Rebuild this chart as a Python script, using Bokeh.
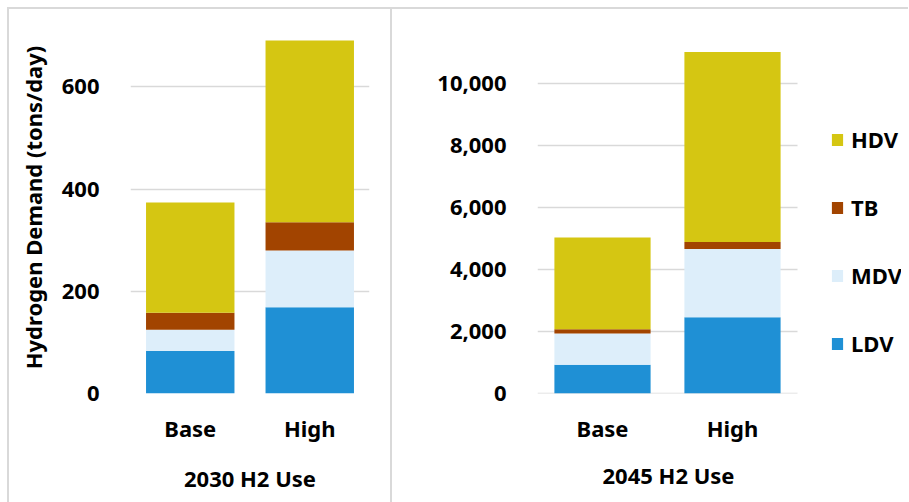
from bokeh.plotting import figure
from bokeh.models import (ColumnDataSource, FactorRange, Range1d, Legend, LegendItem,
                          NumeralTickFormatter, FixedTicker, Title)
from bokeh.layouts import row
from bokeh.embed import file_html
from bokeh.resources import INLINE

categories = ["Base", "High"]
series = ["LDV", "MDV", "TB", "HDV"]
ldv_2030 = [83, 169]
mdv_2030 = [42, 111]
tb_2030 = [33, 55]
hdv_2030 = [216, 356]
ldv_2045 = [930, 2460]
mdv_2045 = [1005, 2205]
tb_2045 = [140, 225]
hdv_2045 = [2955, 6125]
ticks_2030 = [0, 200, 400, 600]
ticks_2045 = [0, 2000, 4000, 6000, 8000, 10000]
colors = ["#1F90D5", "#DDEEFA", "#A24400", "#D5C612"]
FONT = "Noto Sans"
FS = "22px"
GRID = "#d9d9d9"


def style_axes(p):
    for ax in (p.xaxis[0], p.yaxis[0]):
        ax.axis_line_color = None
        ax.major_tick_line_color = None
        ax.minor_tick_line_color = None
        ax.major_label_text_font = FONT
        ax.major_label_text_font_size = FS
        ax.major_label_text_font_style = "bold"
        ax.major_label_text_color = "#000000"
        ax.axis_label_text_font = FONT
        ax.axis_label_text_font_size = FS
        ax.axis_label_text_font_style = "bold"
        ax.axis_label_text_color = "#000000"
    p.yaxis.major_label_standoff = 25
    p.xaxis.major_label_standoff = 13
    p.xaxis.axis_label_standoff = 17
    p.outline_line_color = None
    p.border_fill_color = None


# ---- 2030 panel ----
src1 = ColumnDataSource(dict(cat=categories, LDV=ldv_2030, MDV=mdv_2030, TB=tb_2030, HDV=hdv_2030))
p1 = figure(x_range=FactorRange(factors=categories, range_padding=0),
            y_range=Range1d(0, 728), width=385, height=495,
            output_backend="svg", toolbar_location=None,
            min_border_left=123, min_border_right=23, min_border_top=14, min_border_bottom=107)
p1.vbar_stack(series, x="cat", width=0.74, color=colors, line_color=None, source=src1)
p1.xgrid.grid_line_color = None
p1.ygrid.grid_line_color = GRID
p1.ygrid.grid_line_width = 1.5
p1.yaxis.ticker = FixedTicker(ticks=ticks_2030)
p1.yaxis.formatter = NumeralTickFormatter(format="0")
style_axes(p1)
p1.xaxis.axis_label = "2030 H2 Use"
p1.yaxis.axis_label = "Hydrogen Demand (tons/day)"
p1.yaxis.axis_label_standoff = 11
p1.styles = {"box-shadow": "inset 2px 2px 0 0 #d9d9d9, inset -2px 0 0 0 #d9d9d9"}

# ---- 2045 panel (numeric x so the legend sits inside the frame) ----
xpos = [i + 0.5 for i in range(len(categories))]
src2 = ColumnDataSource(dict(x=xpos, LDV=ldv_2045, MDV=mdv_2045, TB=tb_2045, HDV=hdv_2045))
p2 = figure(x_range=Range1d(0, 2.8), y_range=Range1d(0, 12000), width=516, height=495,
            output_backend="svg", toolbar_location=None,
            min_border_left=145, min_border_right=7, min_border_top=14, min_border_bottom=107)
p2.segment(x0=0, x1=len(categories), y0=ticks_2045, y1=ticks_2045,
           line_color=GRID, line_width=1.5, level="underlay")
rs = p2.vbar_stack(series, x="x", width=0.74, color=colors, line_color=None, source=src2)
p2.xgrid.grid_line_color = None
p2.ygrid.grid_line_color = None
p2.yaxis.ticker = FixedTicker(ticks=ticks_2045)
p2.yaxis.formatter = NumeralTickFormatter(format="0,0")
p2.xaxis.ticker = FixedTicker(ticks=xpos)
p2.xaxis.major_label_overrides = {x: c for x, c in zip(xpos, categories)}
style_axes(p2)
p2.add_layout(Title(text="2045 H2 Use", align="left", offset=65, standoff=25,
                    vertical_align="bottom", text_font=FONT, text_font_size=FS,
                    text_font_style="bold", text_color="#000000"), "below")
p2.styles = {"box-shadow": "inset 0 2px 0 0 #d9d9d9"}

items = [LegendItem(label=s, renderers=[r]) for s, r in zip(series, rs)][::-1]
lg = Legend(items=items, location=(293, 35), padding=0, margin=0,
            border_line_color=None, background_fill_alpha=0,
            glyph_width=14, glyph_height=15, spacing=38, label_standoff=7,
            label_text_font=FONT, label_text_font_size=FS,
            label_text_font_style="bold", label_text_color="#000000")
p2.add_layout(lg, "center")

layout = row(p1, p2, spacing=0, margin=(7, 0, 0, 7))
open("out.html", "w").write(file_html(layout, INLINE))
